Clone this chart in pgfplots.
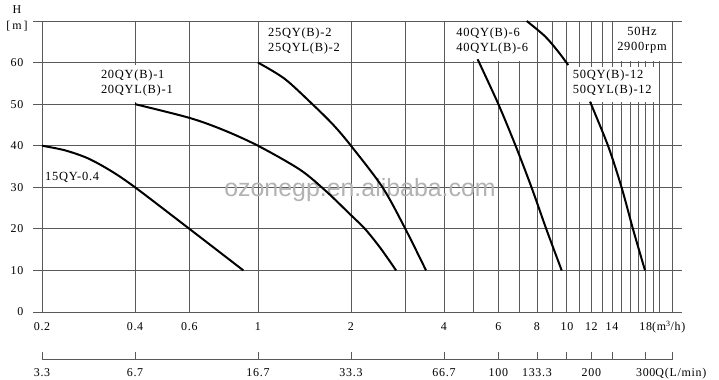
\documentclass[border=0pt]{standalone}
\usepackage{fontspec}
\setmainfont{Liberation Serif}[LetterSpace=6]
\newfontfamily\wmfont{Liberation Sans}
\usepackage{pgfplots}
\pgfplotsset{compat=1.18}
\definecolor{gridc}{gray}{0.35}
\begin{document}
\begin{tikzpicture}
\useasboundingbox (-42bp,-68bp) rectangle (677bp,312bp);
\begin{axis}[
  at={(0,0)}, anchor=south west, scale only axis,
  width=630.7bp, height=291bp,
  xmode=log, xmin=0.2, xmax=22, ymin=0, ymax=70,
  xtick={0.2,0.4,0.6,1,2,3,4,5,6,7,8,9,10,11,12,13,14,15,16,17,18,19,20},
  xticklabels={0.2,0.4,0.6,1,2,,4,,6,,8,,10,,12,,14,,,,18\rlap{(m\textsuperscript{3}/h)},,},
  minor xtick={},
  ytick={0,10,...,70},
  yticklabels={0,10,20,30,40,50,60,},
  xmajorgrids, ymajorgrids,
  grid style={gridc, line width=0.9bp},
  axis line style={gridc, line width=0.9bp},
  x tick style={draw=none},
  y tick style={gridc, line width=0.9bp},
  tick align=outside, major tick length=9bp,
  /pgf/number format/assume math mode=true,
  tick label style={font=\fontsize{12}{14}\selectfont},
  xticklabel style={anchor=base, yshift=-9.5bp},
  yticklabel style={anchor=east, inner sep=0pt, xshift=-9.5bp},
  clip=false,
]
% white label backgrounds covering grid lines
\fill[white] (axis cs:4.1,60.3) rectangle (axis cs:7.8,69.7);
\fill[white] (axis cs:14.3,60.3) rectangle (axis cs:21.6,69.7);
\fill[white] (axis cs:10.2,50.6) rectangle (axis cs:19.8,58.9);
\fill[white] (axis cs:0.32,50.5) rectangle (axis cs:0.5,59.5);
% watermark
\node[anchor=base, inner sep=0pt, text=black!30, font=\wmfont\fontsize{25}{25}\selectfont] at (axis cs:2.14,27.8) {ozonegp.en.alibaba.com};
% curves
\addplot[black, line width=2bp, smooth] coordinates {(0.2,40) (0.237,38.9) (0.282,36.95) (0.335,33.9) (0.4,30) (0.6,20) (0.897,10)};
\addplot[black, line width=2bp, smooth] coordinates {(0.4,50) (0.6,46.7) (0.772,43.8) (1,40) (1.37,34.2) (1.67,28.9) (2,23.3) (2.22,20) (2.49,15.4) (2.8,10)};
\addplot[black, line width=2bp, smooth] coordinates {(1,60) (1.22,56.1) (1.5,50) (1.754,45) (2,40) (2.53,30) (3,20) (3.5,10)};
\addplot[black, line width=2bp, smooth] coordinates {(5.14,60.8) (6.0,50) (6.83,39.9) (7.69,29.9) (8.6,19.7) (9.62,10)};
\addplot[black, line width=2bp, smooth] coordinates {(7.41,70) (8.5,66.3) (9.38,62.6) (10.1,59.4)};
\addplot[black, line width=2bp, smooth] coordinates {(11.88,50.6) (13.6,39.9) (15.04,29.9) (16.4,19.7) (17.9,10)};
% labels
\begin{scope}[every node/.style={inner sep=0pt, align=left, anchor=west, font=\fontsize{12.5}{15}\selectfont}]
\node at (axis cs:0.2045,32.5) {15QY-0.4};
\node at (axis cs:0.31,55.0) {20QY(B)-1\\20QYL(B)-1};
\node at (axis cs:1.077,65.1) {25QY(B)-2\\25QYL(B)-2};
\node at (axis cs:4.38,65.2) {40QY(B)-6\\40QYL(B)-6};
\node at (axis cs:10.44,55.1) {50QY(B)-12\\50QYL(B)-12};
\node[anchor=center, align=center] at (axis cs:17.5,65.4) {50Hz\\2900rpm};
\end{scope}
\end{axis}
\begin{axis}[
  at={(0,-47bp)}, anchor=south west, scale only axis,
  width=630.7bp, height=10bp,
  xmode=log, xmin=0.2, xmax=22, ymin=0, ymax=1,
  axis x line*=bottom, axis y line=none,
  xtick={0.2,0.4,1,2,4,6,8,10,12,14,18,22},
  xticklabels={3.3,6.7,16.7,33.3,66.7,100,133.3,,200,,300\rlap{Q(L/min)},},
  minor xtick={},
  tick align=inside, major tick length=7bp,
  x axis line style={gridc, line width=0.9bp},
  x tick style={gridc, line width=0.9bp},
  tick label style={font=\fontsize{12}{14}\selectfont},
  xticklabel style={anchor=base, yshift=-17bp},
]
\addplot[draw=none] coordinates {(1,0.5)};
\end{axis}
\node[font=\fontsize{12}{14}\selectfont, inner sep=0pt] at (-25bp,302.7bp) {H};
\node[font=\fontsize{12}{14}\selectfont, inner sep=0pt] at (-25bp,286bp) {[\,m\,]};
\end{tikzpicture}
\end{document}
